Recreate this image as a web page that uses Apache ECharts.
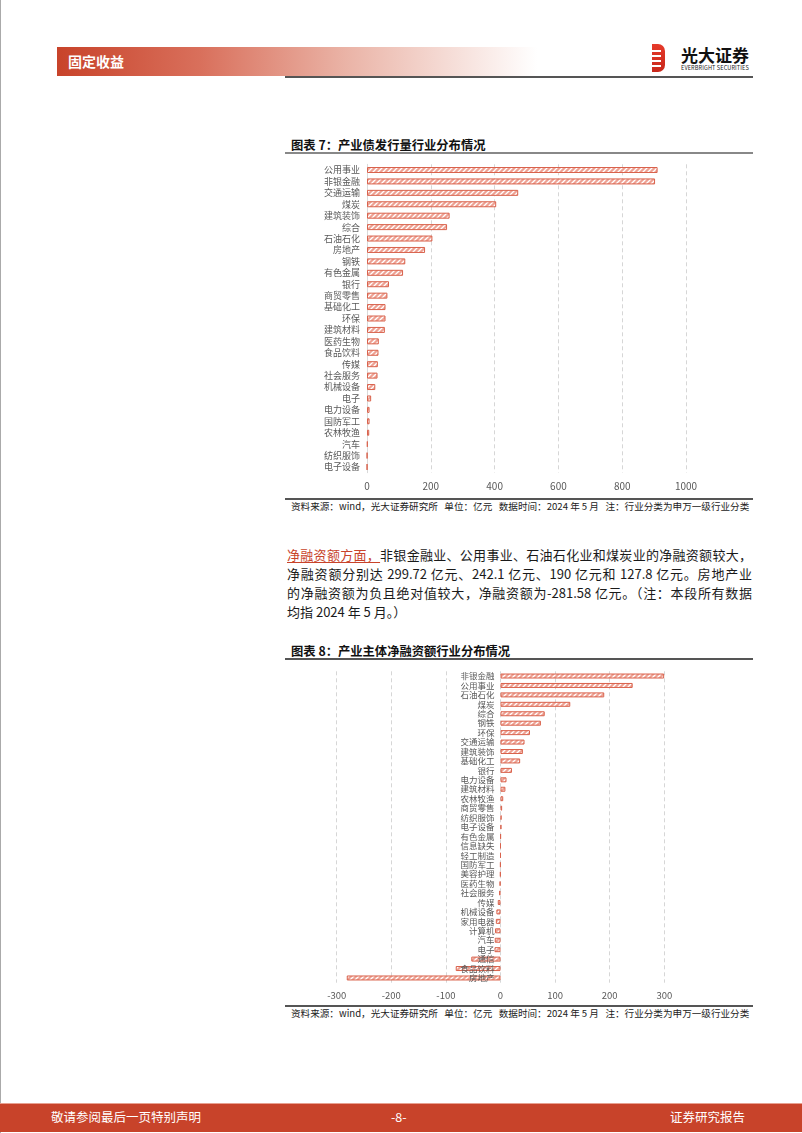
<!DOCTYPE html>
<html><head><meta charset="utf-8">
<script src="https://cdn.jsdelivr.net/npm/echarts@6/dist/echarts.min.js"></script>
<style>
html,body{margin:0;padding:0;background:#fff;}
#page{position:relative;width:802px;height:1133px;overflow:hidden;background:#fff;font-family:"Noto Sans CJK SC","Noto Sans",sans-serif;}
#chart{position:absolute;left:0;top:0;width:802px;height:1133px;}
.abs{position:absolute;white-space:nowrap;}
.hdr{left:57px;top:47px;width:480px;height:29px;background:linear-gradient(to right,#c8432a 0%,#d9705c 30%,#eab3a6 60%,#fff 100%);}
.hdrtxt{left:68px;top:51px;color:#fff;font-weight:bold;font-size:14px;line-height:20px;}
.line{position:absolute;background:#666;}
.title{font-weight:bold;font-size:12.3px;color:#111;line-height:14px;}
.src{font-size:9.6px;color:#222;line-height:12px;}
.para{left:287px;top:545px;width:465px;font-size:13px;line-height:19px;color:#1a1a1a;white-space:normal;}
.para span.l{display:block;text-align:justify;text-align-last:justify;white-space:nowrap;}
.para span.last{display:block;}
.red{color:#c8432a;text-decoration:underline;text-underline-offset:2px;}
.foot{left:0;top:1103px;width:802px;height:28px;background:#c8432a;border-top:1px solid #e8a090;}
.foottxt{color:#fff;font-size:12.5px;line-height:16px;top:1109px;}
</style></head>
<body>
<div id="page">
  <div style="position:absolute;left:0;top:0;width:1px;height:1133px;background:#aaa;"></div>
  <div class="abs hdr"></div>
  <div class="abs hdrtxt">固定收益</div>
  <div class="line" style="left:285px;top:76px;width:468px;height:2px;background:#555;"></div>
  <!-- logo -->
  <div class="abs" style="left:652px;top:44px;width:16px;height:28px;">
    <div style="position:absolute;left:0;top:0;width:13px;height:28px;background:linear-gradient(#e63a2a,#c8281c);border-radius:0 7px 7px 0;"></div>
    <div style="position:absolute;left:0;top:6px;width:9px;height:2px;background:#fff;"></div>
    <div style="position:absolute;left:0;top:11px;width:9px;height:2px;background:#fff;"></div>
    <div style="position:absolute;left:0;top:16px;width:9px;height:2px;background:#fff;"></div>
    <div style="position:absolute;left:0;top:21px;width:9px;height:2px;background:#fff;"></div>
  </div>
  <div class="abs" style="left:681px;top:45px;font-size:17px;font-weight:bold;color:#111;line-height:20px;">光大证券</div>
  <div class="abs" style="left:681px;top:65px;font-size:5.6px;color:#222;line-height:7px;letter-spacing:0.1px;">EVERBRIGHT SECURITIES</div>

  <div class="abs title" style="left:291px;top:138px;">图表 7：产业债发行量行业分布情况</div>
  <div class="line" style="left:285px;top:152px;width:468px;height:1.5px;background:#888;"></div>
  <div class="line" style="left:285px;top:498px;width:468px;height:1.5px;background:#555;"></div>
  <div class="abs src" style="left:291px;top:500px;">资料来源：wind，光大证券研究所&nbsp;&nbsp;&nbsp;单位：亿元&nbsp;&nbsp;&nbsp;数据时间：2024 年 5 月&nbsp;&nbsp;&nbsp;注：行业分类为申万一级行业分类</div>

  <div class="abs para">
    <span class="l"><span class="red">净融资额方面，</span>非银金融业、公用事业、石油石化业和煤炭业的净融资额较大，</span>
    <span class="l">净融资额分别达 299.72 亿元、242.1 亿元、190 亿元和 127.8 亿元。房地产业</span>
    <span class="l">的净融资额为负且绝对值较大，净融资额为-281.58 亿元。（注：本段所有数据</span>
    <span class="last">均指 2024 年 5 月。）</span>
  </div>

  <div class="abs title" style="left:291px;top:644px;">图表 8：产业主体净融资额行业分布情况</div>
  <div class="line" style="left:285px;top:658px;width:468px;height:1.5px;background:#555;"></div>
  <div class="line" style="left:285px;top:1005px;width:468px;height:1.5px;background:#555;"></div>
  <div class="abs src" style="left:291px;top:1007px;">资料来源：wind，光大证券研究所&nbsp;&nbsp;&nbsp;单位：亿元&nbsp;&nbsp;&nbsp;数据时间：2024 年 5 月&nbsp;&nbsp;&nbsp;注：行业分类为申万一级行业分类</div>

  <div id="chart"></div>

  <div class="abs foot"></div>
  <div class="abs foottxt" style="left:51px;">敬请参阅最后一页特别声明</div>
  <div class="abs foottxt" style="left:391px;">-8-</div>
  <div class="abs foottxt" style="left:670px;">证券研究报告</div>
</div>
<script>
// Chart 7: 产业债发行量行业分布 (亿元)
const cats1 = ['公用事业','非银金融','交通运输','煤炭','建筑装饰','综合','石油石化','房地产','钢铁','有色金属','银行','商贸零售','基础化工','环保','建筑材料','医药生物','食品饮料','传媒','社会服务','机械设备','电子','电力设备','国防军工','农林牧渔','汽车','纺织服饰','电子设备'];
const vals1 = [911,903,474,405,259,251,205,182,120,113,69,64,58,58,56,37,36,34,33,26,13,8,8,7,2,0.5,0.3];
const ticks1 = [0,200,400,600,800,1000];

// Chart 8: 产业主体净融资额行业分布 (亿元)
const cats2 = ['非银金融','公用事业','石油石化','煤炭','综合','钢铁','环保','交通运输','建筑装饰','基础化工','银行','电力设备','建筑材料','农林牧渔','商贸零售','纺织服饰','电子设备','有色金属','信息缺失','轻工制造','国防军工','美容护理','医药生物','社会服务','传媒','机械设备','家用电器','计算机','汽车','电子','通信','食品饮料','房地产'];
const vals2 = [299.72,242.1,190,127.8,81,74,54,44,41,36,21,11,9,5,3,2,1.5,0.3,0,0,-0.3,-0.5,-1.5,-2.5,-5,-7.5,-8.5,-10,-10.5,-11,-53.5,-82,-281.58];
const ticks2 = [-300,-200,-100,0,100,200,300];

function makePattern(){
  const c=document.createElement('canvas'); c.width=5; c.height=5;
  const g=c.getContext('2d');
  g.fillStyle='#eea294'; g.fillRect(0,0,5,5);
  g.strokeStyle='#ffffff'; g.lineWidth=1.3;
  g.beginPath();
  g.moveTo(0,5); g.lineTo(5,0);
  g.moveTo(-2.5,2.5); g.lineTo(2.5,-2.5);
  g.moveTo(2.5,7.5); g.lineTo(7.5,2.5);
  g.stroke();
  return c;
}
const pat = {image: makePattern(), repeat: 'repeat'};
const barStyle = {color: pat, borderColor:'#d9624c', borderWidth:1};

const g2 = {left:336.7, top:671.3, width:327.6, height:311.4};
const min2 = ticks2[0], max2 = ticks2[ticks2.length-1];
// place category axis at value 0 of the value axis
const zeroOffset2 = -g2.width * (0 - min2) / (max2 - min2);

const chart = echarts.init(document.getElementById('chart'), null, {renderer:'canvas'});
const fam = '"Noto Sans CJK SC", sans-serif';
chart.setOption({
  animation:false,
  grid:[
    {left:367, top:164.3, width:319, height:308.4, containLabel:false},
    Object.assign({containLabel:false}, g2)
  ],
  xAxis:[
    {gridIndex:0, type:'value', min:ticks1[0], max:ticks1[ticks1.length-1], interval:200,
     axisLine:{show:false}, axisTick:{show:false},
     axisLabel:{margin:9, color:'#595959', fontSize:10, fontFamily:fam, formatter:v=>String(v)},
     splitLine:{show:true, lineStyle:{color:'#d6d6d6', type:[4,3], width:1}}},
    {gridIndex:1, type:'value', min:min2, max:max2, interval:100,
     axisLine:{show:false}, axisTick:{show:false},
     axisLabel:{margin:8, color:'#595959', fontSize:9.5, fontFamily:fam, formatter:v=>String(v)},
     splitLine:{show:true, lineStyle:{color:'#d6d6d6', type:[4,3], width:1}}}
  ],
  yAxis:[
    {gridIndex:0, type:'category', data:cats1, inverse:true,
     axisLine:{show:true, lineStyle:{color:'#d9d9d9'}}, axisTick:{show:false},
     axisLabel:{margin:7, interval:0, color:'#595959', fontSize:9, fontFamily:fam}},
    {gridIndex:1, type:'category', data:cats2, inverse:true, position:'left', offset:zeroOffset2, z:6,
     axisLine:{show:false, onZero:false}, axisTick:{show:false},
     axisLabel:{margin:6, interval:0, color:'#595959', fontSize:8.5, fontFamily:fam}}
  ],
  series:[
    {type:'bar', xAxisIndex:0, yAxisIndex:0, data:vals1, barWidth:6, itemStyle:barStyle},
    {type:'bar', xAxisIndex:1, yAxisIndex:1, data:vals2, barWidth:5, itemStyle:barStyle, z:1}
  ]
});
</script>
</body></html>
